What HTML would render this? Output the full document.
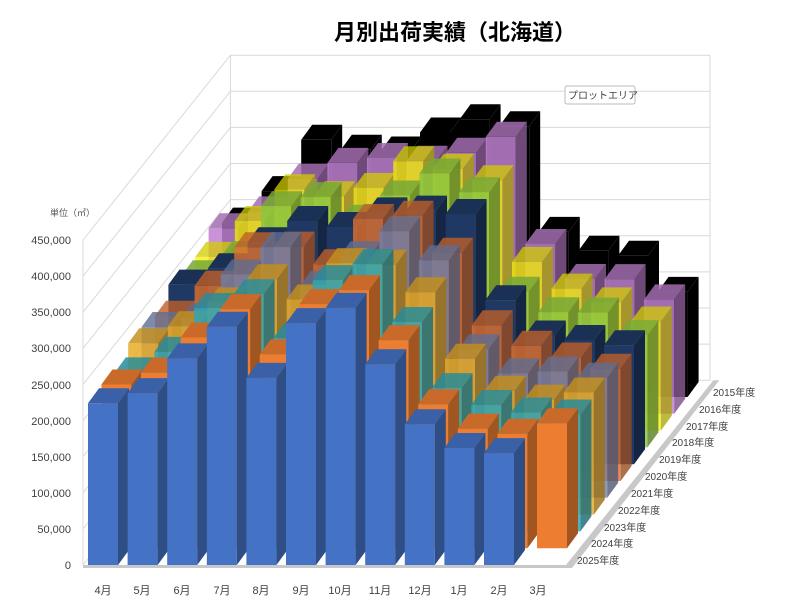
<!DOCTYPE html>
<html><head><meta charset="utf-8">
<style>
html,body{margin:0;padding:0;background:#fff;}
svg{display:block;font-family:"Liberation Sans","Noto Sans CJK JP",sans-serif;}
</style></head>
<body>
<svg id="c" width="795" height="603" viewBox="0 0 795 603" xmlns="http://www.w3.org/2000/svg">
<rect width="795" height="603" fill="#fff"/>
<g id="grid"></g>
<g id="bars"></g>
<text x="455" y="40" font-size="22" font-weight="bold" text-anchor="middle" fill="#000">月別出荷実績（北海道）</text>
<text x="50" y="216" font-size="9" fill="#595959">単位（㎥）</text>
<g font-size="11" fill="#404040" text-anchor="end">
<text x="71" y="569">0</text>
<text x="71" y="533">50,000</text>
<text x="71" y="497">100,000</text>
<text x="71" y="461">150,000</text>
<text x="71" y="425">200,000</text>
<text x="71" y="389">250,000</text>
<text x="71" y="352">300,000</text>
<text x="71" y="316">350,000</text>
<text x="71" y="280">400,000</text>
<text x="71" y="244">450,000</text>
</g>
<g font-size="11" fill="#404040" text-anchor="middle">
<text x="103" y="594">4月</text><text x="142" y="594">5月</text><text x="182" y="594">6月</text>
<text x="222" y="594">7月</text><text x="261" y="594">8月</text><text x="301" y="594">9月</text>
<text x="340" y="594">10月</text><text x="380" y="594">11月</text><text x="420" y="594">12月</text>
<text x="459" y="594">1月</text><text x="499" y="594">2月</text><text x="538" y="594">3月</text>
</g>
<g font-size="10" fill="#404040">
<text x="577" y="564">2025年度</text>
<text x="591" y="547">2024年度</text>
<text x="604" y="531">2023年度</text>
<text x="618" y="514">2022年度</text>
<text x="631" y="497">2021年度</text>
<text x="645" y="480">2020年度</text>
<text x="659" y="463">2019年度</text>
<text x="672" y="446">2018年度</text>
<text x="686" y="430">2017年度</text>
<text x="699" y="413">2016年度</text>
<text x="713" y="396">2015年度</text>
</g>
<rect x="565" y="86" width="70" height="18" fill="#fff" stroke="#bbb" rx="2"/>
<text x="568" y="99" font-size="10" fill="#404040">プロットエリア</text>
</svg>
<script>
(function(){
var NS="http://www.w3.org/2000/svg";
var g=document.getElementById("grid"),b=document.getElementById("bars");
function poly(par,pts,fill,op){var p=document.createElementNS(NS,"polygon");p.setAttribute("points",pts.map(function(a){return a[0].toFixed(1)+","+a[1].toFixed(1)}).join(" "));p.setAttribute("fill",fill);if(op<1)p.setAttribute("fill-opacity",op);par.appendChild(p);}
function line(x1,y1,x2,y2,c){var l=document.createElementNS(NS,"line");l.setAttribute("x1",x1);l.setAttribute("y1",y1);l.setAttribute("x2",x2);l.setAttribute("y2",y2);l.setAttribute("stroke",c);l.setAttribute("stroke-width","1");g.appendChild(l);}
var k=325/450, y0=565, RX=13.4, RY=-16.8, N=11;
var bx=83+RX*N, by=y0+RY*N;
var rx=710;
// floor edge band
var fx=566;
poly(g,[[83,y0],[fx,y0],[fx+RX*N,by],[fx+RX*N+6,by],[fx+6,y0+3],[83,y0+3]],"#c8c8c8",1);
for(var i=0;i<=9;i++){var v=i*50*k;
 line(83,y0-v,bx,by-v,"#d9d9d9");
 line(bx,by-v,rx,by-v,"#d9d9d9");}
line(83,y0,83,y0-325,"#d9d9d9");
line(bx,by,bx,by-325,"#d9d9d9");
line(rx,by,rx,by-325,"#d9d9d9");
var F=[224,238,286,330,259,335,356,278,195,162,155,173];
var B=[250,290,343,340,354,365,370,380,237,198,190,150];
var cols=[["#4472C4",1],["#ED7D31",1],["#2FA5B5",0.85],["#E8A820",0.82],["#7080AA",0.8],["#E07030",0.8],["#1F3864",1],["#8CC63F",0.85],["#F5F000",0.75],["#C080D0",0.85],["#000000",1]];
function shade(h,f){var n=parseInt(h.slice(1),16);var r=(n>>16)&255,gg=(n>>8)&255,bb=n&255;return "rgb("+Math.round(r*f)+","+Math.round(gg*f)+","+Math.round(bb*f)+")";}
var DX=11,DY=-15,W=30;
for(var r=N-1;r>=0;r--){
 var t=r/(N-1);
 for(var m=0;m<12;m++){
  if(r===0&&m===11)continue;
  var val=F[m]*(1-t)+B[m]*t;
  if(r>1) val*=1+0.04*Math.sin(r*2.3+m*1.7);
  if(r===1&&m===11) val=173;
  var h=val*k;
  var x=88+39.6*m+RX*r, yb=y0+RY*r, yt=yb-h;
  var c=cols[r][0],op=cols[r][1];
  poly(b,[[x,yt],[x+W,yt],[x+W,yb],[x,yb]],c,op);
  poly(b,[[x+W,yt],[x+W+DX,yt+DY],[x+W+DX,yb+DY],[x+W,yb]],shade(c,0.68),op);
  poly(b,[[x,yt],[x+DX,yt+DY],[x+W+DX,yt+DY],[x+W,yt]],shade(c,0.85),op);
 }
}
})();
</script>
</body></html>
